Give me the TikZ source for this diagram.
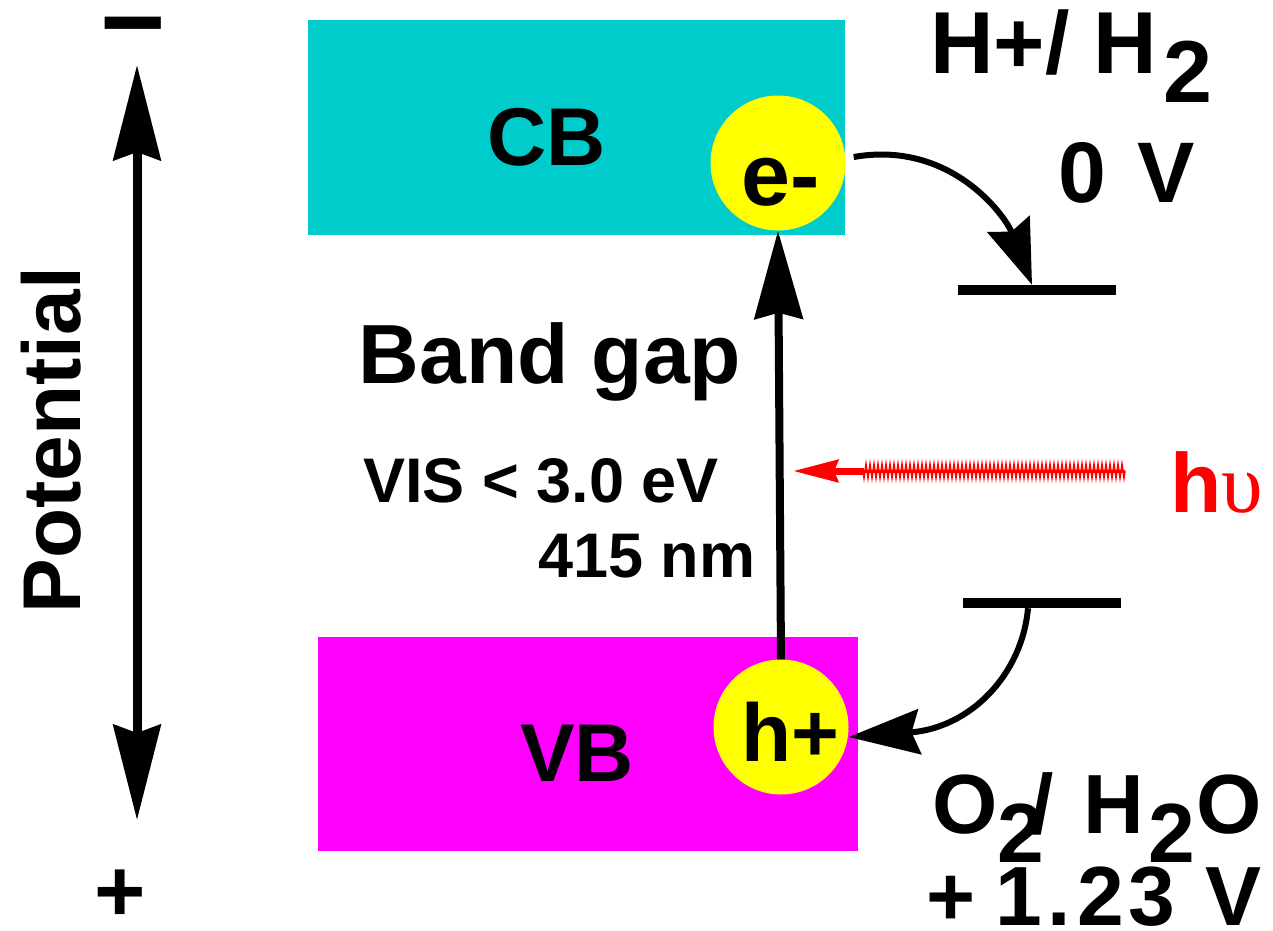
\documentclass[tikz,border=0pt]{standalone}
\usepackage{fontspec}
\setmainfont{Liberation Sans}
\newfontfamily\serifgr{Liberation Serif}
\usetikzlibrary{arrows.meta,decorations.pathmorphing}
\definecolor{cbcol}{HTML}{00CCCC}
\definecolor{vbcol}{HTML}{FF00FF}
\definecolor{carrier}{HTML}{FFFF00}
\begin{document}
\begin{tikzpicture}[x=1pt,y=-1pt,
  big/.style={font=\fontsize{82}{82}\selectfont\bfseries, inner sep=0, anchor=base},
  mid/.style={font=\fontsize{63}{63}\selectfont\bfseries, inner sep=0, anchor=base},
  redox/.style={font=\fontsize{86}{86}\selectfont\bfseries, inner sep=0, anchor=base west},
  band/.style={inner sep=0, minimum width=#1, anchor=north west},
  dot/.style={circle, fill=carrier, minimum size=135pt, inner sep=0},
  level/.style={fill=black, minimum width=158pt, minimum height=10pt, inner sep=0},
  curvearrow/.style={line width=6pt, -{Stealth[length=#1, width=45pt, inset=8pt]}},
]
\useasboundingbox (0,0) rectangle (1273,930);
\fill[white] (0,0) rectangle (1273,930);

% bands
\node[band=537pt, fill=cbcol, minimum height=215pt] (cb) at (308,20) {};
\node[band=540pt, fill=vbcol, minimum height=214pt] (vb) at (318,637) {};
\node[big] (cbl) at (547,165) {CB};
\node[big] (vbl) at (577,781) {VB};

% carriers
\node[dot] (em) at (778,163) {};
\node[dot] (hp) at (781,727) {};
\node[big, font=\fontsize{88}{88}\selectfont\bfseries] (eml) at (781,205) {e-};
\node[big] (hpl) at (790,761) {h+};

% band gap arrow
\draw[line width=8pt, -{Stealth[length=88pt, width=48pt, inset=6pt]}] (hp.north) -- (em.south);
\node[big, font=\fontsize{84}{84}\selectfont\bfseries] (bg) at (550,383) {Band gap};
\node[mid] (vis) at (541,502) {VIS < 3.0 eV};
\node[mid] (nm) at (647,577) {415 nm};

% potential axis
\coordinate (axtop) at (137,65);
\coordinate (axbot) at (137,820);
\draw[line width=9pt, {Stealth[length=95pt, width=47pt, inset=8pt]}-{Stealth[length=95pt, width=47pt, inset=8pt]}] (axtop) -- (axbot);
\node[big, rotate=90] (pot) at (80,440) {Potential};
\node[font=\fontsize{112}{112}\selectfont\bfseries, inner sep=0, anchor=base] (minus) at (133,60) {−};
\node[font=\fontsize{88}{88}\selectfont\bfseries, inner sep=0, anchor=base] (plus) at (120,921) {+};

% redox levels
\node[level] (lh) at (1037,290) {};
\node[level] (lo) at (1042,603) {};
\node[redox, font=\fontsize{88}{88}\selectfont\bfseries] (hh) at (930,73) {H+/ H\kern6pt\raisebox{-29pt}{2}};
\node[redox] (zv) at (1058,202) {0 \kern8pt V};
\node[redox, font=\fontsize{84}{84}\selectfont\bfseries] (oo) at (932,833) {O\raisebox{-29pt}{2}\kern-14pt/\kern30pt H\kern4pt\raisebox{-29pt}{2}\kern2ptO};
\node[redox, font=\fontsize{84}{84}\selectfont\bfseries] (ov) at (926,925) {+\kern20pt 1\kern6pt.\kern6pt2\kern5pt3\kern30pt V};

% electron transfer arrows
\draw[curvearrow=65pt] ([xshift=8pt,yshift=6pt]em.east) .. controls (950,140) and (1005,215) .. ([xshift=-5pt]lh.north);
\draw[curvearrow=71pt] ([xshift=-14pt]lo.south) .. controls (1022,675) and (970,728) .. ([yshift=-10pt]hp.east);

% light
\coordinate (hvstart) at (1125,471);
\coordinate (hvmid) at (862,471);
\coordinate (hvend) at (793,471);
\draw[red, line width=3pt] (hvstart) -- (hvmid);
\draw[red, line width=1.5pt, decorate, decoration={zigzag, segment length=4pt, amplitude=7pt}] (hvstart) -- (hvmid);
\draw[red, line width=7pt, -{Stealth[length=45pt, width=22pt, inset=4pt]}] ([xshift=2pt]hvmid) -- (hvend);
\node[redox, text=red, font=\fontsize{84}{84}\selectfont\bfseries] (hv) at (1170,512) {h{\serifgr\mdseries υ}};
\end{tikzpicture}
\end{document}
